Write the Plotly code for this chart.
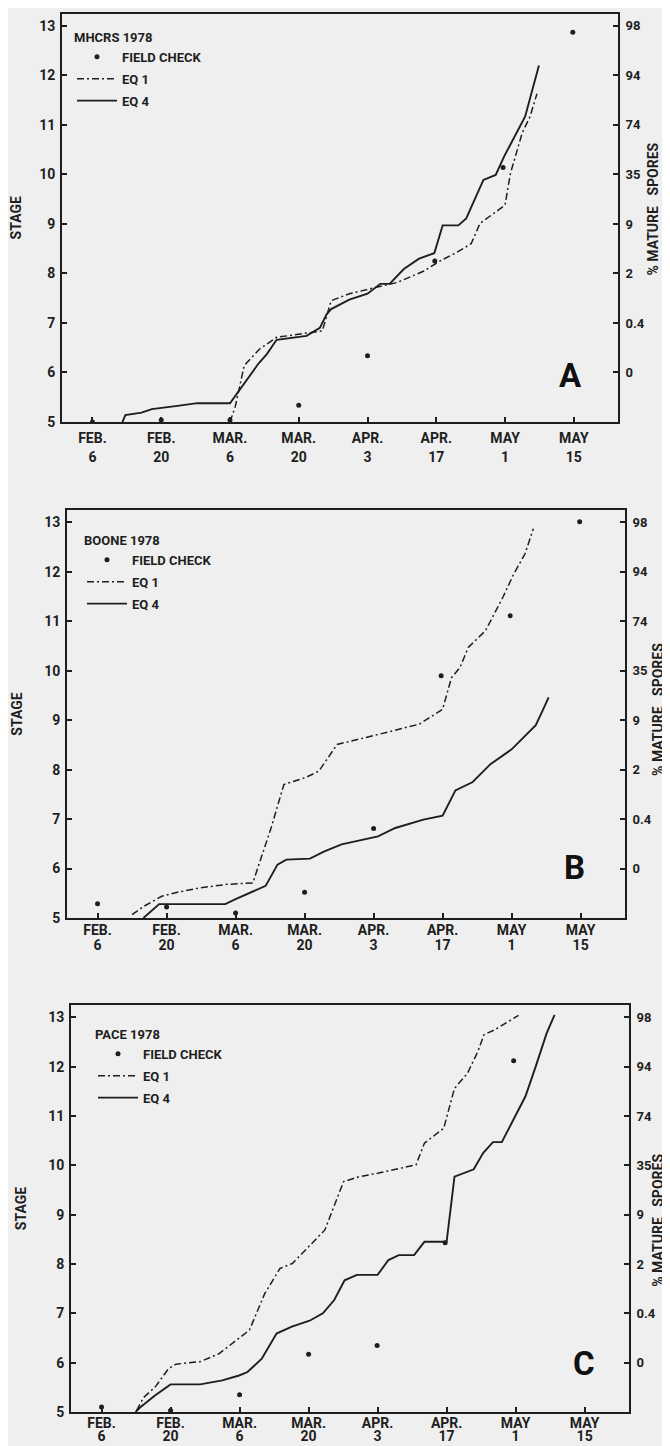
import plotly.graph_objects as go

# ---------------- data (x = days after FEB. 6, 1978; y = stage) ----------------
TICK_DAYS = [0, 14, 28, 42, 56, 70, 84, 98]
TICK_MONTHS = ["FEB.", "FEB.", "MAR.", "MAR.", "APR.", "APR.", "MAY", "MAY"]
TICK_DATES = ["6", "20", "6", "20", "3", "17", "1", "15"]
STAGE_TICKS = [5, 6, 7, 8, 9, 10, 11, 12, 13]
SPORE_TICKS = [6, 7, 8, 9, 10, 11, 12, 13]
SPORE_LABELS = ["0", "0.4", "2", "9", "35", "74", "94", "98"]

# Panel A: MHCRS 1978
A_field_x = [0, 14, 28, 42, 56, 69.7, 83.6, 97.8]
A_field_y = [5.0, 5.04, 5.04, 5.34, 6.34, 8.25, 10.14, 12.87]
A_eq1_x = [28, 29.1, 30.9, 32.4, 34.0, 37.5, 46.8, 48.6, 52.3, 57.8, 62.1, 67.5, 70.9,
           73.9, 77.1, 78.9, 81.3, 84.0, 85.1, 87.5, 89.1, 90.5]
A_eq1_y = [5.0, 5.32, 6.14, 6.30, 6.47, 6.71, 6.84, 7.45, 7.59, 7.72, 7.82, 8.05, 8.26,
           8.41, 8.60, 9.01, 9.18, 9.38, 10.02, 10.84, 11.17, 11.63]
A_eq4_x = [6.1, 6.7, 10.0, 12.1, 16.9, 21.4, 28.0, 29.1, 32.2, 33.8, 35.5, 37.5, 43.6,
           46.3, 47.7, 48.6, 52.3, 56.0, 58.6, 60.5, 63.4, 66.5, 69.6, 71.3, 74.5, 76.1,
           79.6, 82.1, 83.8, 85.6, 88.1, 90.9]
A_eq4_y = [5.0, 5.14, 5.19, 5.26, 5.32, 5.38, 5.38, 5.53, 5.97, 6.18, 6.37, 6.66, 6.74,
           6.90, 7.18, 7.28, 7.47, 7.59, 7.79, 7.79, 8.09, 8.30, 8.41, 8.97, 8.97, 9.11,
           9.89, 9.99, 10.36, 10.70, 11.17, 12.20]

# Panel B: BOONE 1978
B_field_x = [0, 14, 28, 42, 56, 69.7, 83.7, 97.8]
B_field_y = [5.29, 5.22, 5.10, 5.52, 6.81, 9.90, 11.11, 13.01]
B_eq1_x = [7.0, 9.45, 13.0, 16.2, 20.8, 26.2, 31.5, 35.2, 37.8, 42.2, 44.9, 48.6, 56.9,
           65.3, 70.0, 71.8, 73.5, 75.2, 78.7, 82.2, 84.4, 86.7, 88.4]
B_eq1_y = [5.07, 5.24, 5.44, 5.52, 5.61, 5.68, 5.71, 6.82, 7.70, 7.84, 7.97, 8.51, 8.71,
           8.92, 9.22, 9.86, 10.06, 10.47, 10.81, 11.48, 11.95, 12.36, 12.87]
B_eq4_x = [9.3, 12.5, 15.0, 25.9, 28.0, 30.8, 34.1, 36.5, 38.3, 43.1, 45.9, 49.5, 53.2,
           56.9, 60.4, 66.1, 70.0, 72.6, 76.1, 79.7, 84.0, 88.9, 90.4, 91.5]
B_eq4_y = [5.0, 5.28, 5.28, 5.28, 5.38, 5.51, 5.65, 6.08, 6.18, 6.20, 6.34, 6.49, 6.57,
           6.65, 6.82, 6.99, 7.07, 7.58, 7.75, 8.11, 8.41, 8.90, 9.22, 9.46]

# Panel C: PACE 1978
C_field_x = [0, 14, 28, 42, 55.9, 69.7, 83.6]
C_field_y = [5.10, 5.03, 5.35, 6.17, 6.35, 8.43, 12.12]
C_eq1_x = [7.1, 8.5, 10.9, 13.6, 15.1, 20.0, 23.8, 27.5, 30.0, 33.1, 36.2, 38.7, 41.7,
           45.3, 49.1, 52.3, 56.0, 60.3, 63.8, 65.5, 68.1, 69.4, 71.6, 74.2, 76.3, 77.6,
           79.8, 84.6]
C_eq1_y = [5.03, 5.29, 5.51, 5.88, 5.97, 6.02, 6.18, 6.46, 6.66, 7.40, 7.91, 8.01, 8.32,
           8.69, 9.67, 9.77, 9.84, 9.94, 10.01, 10.45, 10.65, 10.75, 11.56, 11.86, 12.30,
           12.65, 12.75, 13.04]
C_eq4_x = [6.9, 7.8, 10.9, 14.0, 20.0, 24.5, 27.9, 29.6, 32.5, 35.5, 38.6, 42.2, 44.9,
           47.2, 49.3, 51.8, 56.0, 58.2, 60.3, 63.4, 65.5, 70.0, 71.6, 75.5, 77.4, 79.4,
           81.2, 83.8, 86.0, 88.1, 90.3, 91.9]
C_eq4_y = [5.0, 5.09, 5.34, 5.56, 5.56, 5.64, 5.74, 5.81, 6.08, 6.59, 6.73, 6.85, 7.00,
           7.27, 7.67, 7.78, 7.78, 8.08, 8.18, 8.18, 8.45, 8.45, 9.77, 9.92, 10.25, 10.47,
           10.47, 10.99, 11.40, 12.01, 12.68, 13.05]

PANELS = [
    dict(site="MHCRS 1978", letter="A",
         field=(A_field_x, A_field_y), eq1=(A_eq1_x, A_eq1_y), eq4=(A_eq4_x, A_eq4_y)),
    dict(site="BOONE 1978", letter="B",
         field=(B_field_x, B_field_y), eq1=(B_eq1_x, B_eq1_y), eq4=(B_eq4_x, B_eq4_y)),
    dict(site="PACE 1978", letter="C",
         field=(C_field_x, C_field_y), eq1=(C_eq1_x, C_eq1_y), eq4=(C_eq4_x, C_eq4_y)),
]

# ---------------- layout geometry (pixels in a 670 x 1446 page) ----------------
W, H = 670, 1446
BOXES = [  # left, right, top, bottom of each plot frame
    (54, 610, 5.5, 414),
    (59, 617, 502, 910),
    (63, 621, 997, 1404),
]
LEGEND_POS = [(64, 17), (74, 520), (85, 1014)]
LETTER_POS = [(0.915, 0.115), (0.91, 0.125), (0.92, 0.118)]
MONTH_STANDOFF = [2, -2, -3]
DAY_STANDOFF = [25, 17, 14]
RIGHT_TITLE_X = [645, 650, 650]
RIGHT_TITLE_Y = [0.52, 0.51, 0.47]

INK = "#1e1e1e"
BG = "#efefef"
FONT = "Roboto"
XRANGE = [-6.2, 107.0]
YRANGE = [5.0, 13.25]

fig = go.Figure()
layout = dict(
    width=W, height=H, margin=dict(l=0, r=0, t=0, b=0),
    paper_bgcolor=BG, plot_bgcolor=BG,
    font=dict(family=FONT, color=INK, size=13, weight="bold"),
    showlegend=True,
)
annotations = []

for k, p in enumerate(PANELS):
    xm, xd = 1 + 2 * k, 2 + 2 * k
    ym, yr = 1 + 2 * k, 2 + 2 * k
    xname = "x" if xm == 1 else f"x{xm}"
    yname = "y" if ym == 1 else f"y{ym}"
    xdname, yrname = f"x{xd}", f"y{yr}"
    leg = "legend" if k == 0 else f"legend{k + 1}"
    l, r, t, b = BOXES[k]
    xdom = [l / W, r / W]
    ydom = [1 - b / H, 1 - t / H]

    fig.add_trace(go.Scatter(
        x=p["field"][0], y=p["field"][1], mode="markers", name="FIELD CHECK",
        marker=dict(color=INK, size=5), xaxis=xname, yaxis=yname, legend=leg,
        legendgroup=f"f{k}"))
    # EQ 1 is drawn on the overlay axes (same ranges) so that the right-hand
    # percentage axis and the second row of date labels are rendered.
    fig.add_trace(go.Scatter(
        x=p["eq1"][0], y=p["eq1"][1], mode="lines", name="EQ 1",
        line=dict(color=INK, width=1.5, dash="7px,3px,2px,3px"),
        xaxis=xdname, yaxis=yrname, legend=leg, legendgroup=f"e1{k}"))
    fig.add_trace(go.Scatter(
        x=p["eq4"][0], y=p["eq4"][1], mode="lines", name="EQ 4",
        line=dict(color=INK, width=1.9), xaxis=xname, yaxis=yname, legend=leg,
        legendgroup=f"e4{k}"))

    axis_common = dict(showgrid=False, zeroline=False, linecolor=INK, linewidth=1.8,
                       tickcolor=INK, tickwidth=1.5, ticklen=5, ticks="inside",
                       automargin=False, fixedrange=True)
    layout[f"xaxis{'' if xm == 1 else xm}"] = dict(
        axis_common, domain=xdom, range=XRANGE, anchor=yname, showline=True, mirror=True,
        tickmode="array", tickvals=TICK_DAYS, ticktext=TICK_MONTHS,
        tickfont=dict(size=14), ticklabelstandoff=MONTH_STANDOFF[k])
    layout[f"xaxis{xd}"] = dict(
        showgrid=False, zeroline=False, showline=False, ticks="", automargin=False,
        fixedrange=True,
        domain=xdom, range=XRANGE, anchor=yname, overlaying=xname, side="bottom",
        tickmode="array", tickvals=TICK_DAYS, ticktext=TICK_DATES,
        tickfont=dict(size=14), ticklabelstandoff=DAY_STANDOFF[k])
    layout[f"yaxis{'' if ym == 1 else ym}"] = dict(
        axis_common, domain=ydom, range=YRANGE, anchor=xname, showline=True,
        tickmode="array", tickvals=STAGE_TICKS, ticktext=[str(v) for v in STAGE_TICKS],
        tickfont=dict(size=14), ticklabelstandoff=2,
        title=dict(text="STAGE", font=dict(size=14), standoff=18))
    layout[f"yaxis{yr}"] = dict(
        axis_common, domain=ydom, range=YRANGE, anchor=xname, overlaying=yname,
        side="right", showline=True,
        tickmode="array", tickvals=SPORE_TICKS, ticktext=SPORE_LABELS,
        tickfont=dict(size=13), ticklabelstandoff=3)

    # right-hand axis title (placed explicitly so it stays inside the page)
    annotations.append(dict(
        text="% MATURE\u00a0\u00a0\u00a0SPORES", textangle=-90,
        xref="paper", x=RIGHT_TITLE_X[k] / W, yref=f"{yname} domain", y=RIGHT_TITLE_Y[k],
        xanchor="center", yanchor="middle", showarrow=False,
        font=dict(size=14, family=FONT, color=INK, weight="bold")))

    lx, ly = LEGEND_POS[k]
    layout[leg] = dict(
        x=lx / W, y=1 - ly / H, xanchor="left", yanchor="top",
        bgcolor="rgba(0,0,0,0)", borderwidth=0, itemwidth=40,
        font=dict(size=13, family=FONT, color=INK),
        title=dict(text=p["site"], font=dict(size=13, family=FONT, color=INK)),
        tracegroupgap=2, itemclick=False, itemdoubleclick=False)

    annotations.append(dict(
        text=p["letter"], xref=f"{xname} domain", yref=f"{yname} domain",
        x=LETTER_POS[k][0], y=LETTER_POS[k][1], xanchor="center", yanchor="middle",
        showarrow=False, font=dict(size=33, family=FONT, color="#111", weight="bold")))

layout["annotations"] = annotations
fig.update_layout(**layout)
fig.write_html("out.html")
